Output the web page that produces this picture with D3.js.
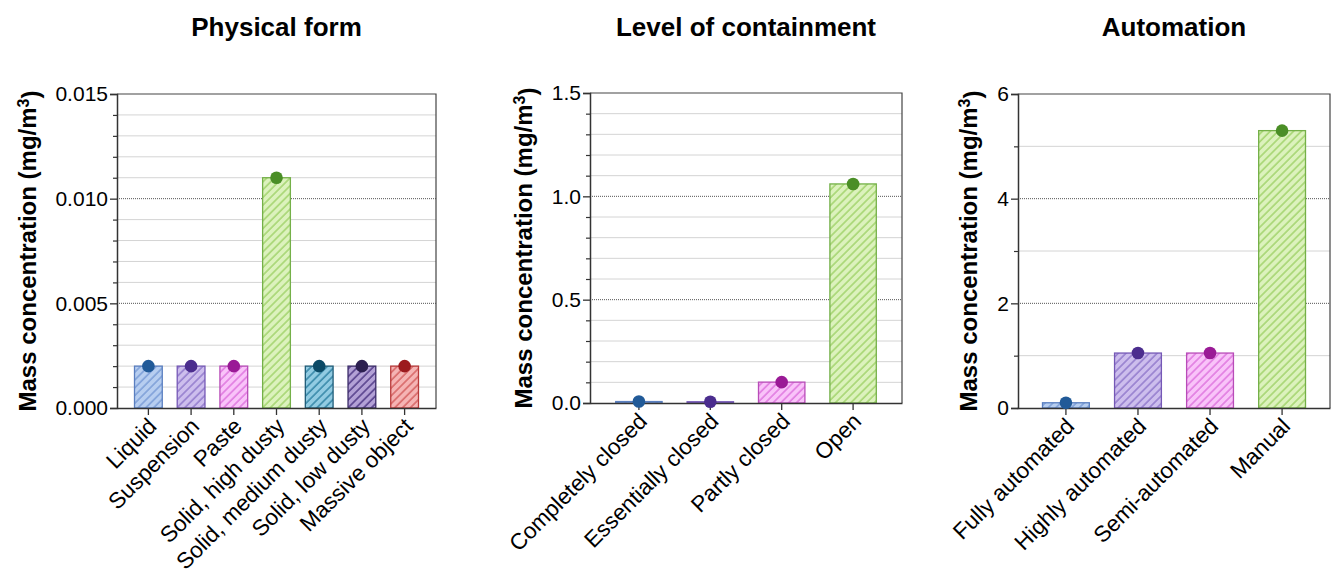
<!DOCTYPE html>
<html>
<head>
<meta charset="utf-8">
<script src="https://cdn.jsdelivr.net/npm/d3@7"></script>
<style>
  body { margin: 0; background: #fff; }
  text { font-family: "Liberation Sans", Arial, sans-serif; fill: #000; }
</style>
</head>
<body>
<script>
// data
var physicalCategories = ["Liquid", "Suspension", "Paste", "Solid, high dusty", "Solid, medium dusty", "Solid, low dusty", "Massive object"];
var physicalValues = [0.002, 0.002, 0.002, 0.011, 0.002, 0.002, 0.002];
var physicalTicks = [0, 0.005, 0.010, 0.015];

var containmentCategories = ["Completely closed", "Essentially closed", "Partly closed", "Open"];
var containmentValues = [0.007, 0.006, 0.101, 1.06];
var containmentTicks = [0, 0.5, 1.0, 1.5];

var automationCategories = ["Fully automated", "Highly automated", "Semi-automated", "Manual"];
var automationValues = [0.1, 1.05, 1.05, 5.3];
var automationTicks = [0, 2, 4, 6];

// fill, hatch, outline, dot
var palette = {
    blue:   ["#b7cef0", "#82a3da", "#5a7fc0", "#215a98"],
    purple: ["#cdbeed", "#9882d0", "#7558b6", "#4b2d8e"],
    pink:   ["#f9c3f9", "#e27fe2", "#b84cb8", "#9a1a96"],
    green:  ["#dcf2bd", "#a9d776", "#74b048", "#4a8e26"],
    teal:   ["#92cbe2", "#3d8cac", "#1f5c78", "#0c4a66"],
    violet: ["#b3a1d6", "#5c4690", "#3a2b68", "#2c1f50"],
    red:    ["#f5b4b4", "#d96c6c", "#b83a3a", "#9c1a1e"]
};

var W = 1341, H = 574;
var svg = d3.select("body").append("svg").attr("width", W).attr("height", H);
var defs = svg.append("defs");

Object.keys(palette).forEach(function (k) {
    var c = palette[k];
    var p = defs.append("pattern")
        .attr("id", "hatch-" + k)
        .attr("patternUnits", "userSpaceOnUse")
        .attr("width", 5.5).attr("height", 5.5)
        .attr("patternTransform", "rotate(45)");
    p.append("rect").attr("width", 5.5).attr("height", 5.5).attr("fill", c[0]);
    p.append("line").attr("x1", 1).attr("x2", 1).attr("y1", 0).attr("y2", 5.5)
        .attr("stroke", c[1]).attr("stroke-width", 1.7);
});

function drawPanel(cfg) {
    var g = svg.append("g");

    var x = d3.scaleBand().domain(cfg.categories)
        .range([cfg.left, cfg.right])
        .paddingInner(0.35).paddingOuter(cfg.outer);
    var y = d3.scaleLinear().domain([0, cfg.ticks[cfg.ticks.length - 1]])
        .range([cfg.bottom, cfg.top]);

    // minor grid
    g.append("g").selectAll("line")
        .data(cfg.minor).enter().append("line")
        .attr("x1", cfg.left).attr("x2", cfg.right)
        .attr("y1", function (d) { return y(d); })
        .attr("y2", function (d) { return y(d); })
        .attr("stroke", "#d4d4d4").attr("stroke-width", 1);

    // major grid (dotted)
    g.append("g").selectAll("line")
        .data(cfg.ticks.slice(1, -1)).enter().append("line")
        .attr("x1", cfg.left).attr("x2", cfg.right)
        .attr("y1", function (d) { return y(d); })
        .attr("y2", function (d) { return y(d); })
        .attr("stroke", "#555").attr("stroke-width", 1)
        .attr("stroke-dasharray", "1,1");

    // frame top + right
    g.append("path")
        .attr("d", "M" + cfg.left + "," + cfg.top + "H" + cfg.right + "V" + cfg.bottom)
        .attr("fill", "none").attr("stroke", "#444").attr("stroke-width", 1.2);

    // bars
    g.selectAll(".bar")
        .data(cfg.values).enter().append("rect")
        .attr("class", "bar")
        .attr("x", function (d, i) { return x(cfg.categories[i]); })
        .attr("width", x.bandwidth())
        .attr("y", function (d) { return y(d); })
        .attr("height", function (d) { return cfg.bottom - y(d); })
        .attr("fill", function (d, i) { return "url(#hatch-" + cfg.colors[i] + ")"; })
        .attr("stroke", function (d, i) { return palette[cfg.colors[i]][2]; })
        .attr("stroke-width", 1.3);

    // y axis
    var yAxis = g.append("g")
        .attr("transform", "translate(" + cfg.left + ",0)")
        .call(d3.axisLeft(y).tickValues(cfg.ticks).tickFormat(d3.format(cfg.fmt))
            .tickSize(7).tickPadding(2));
    yAxis.select(".domain").attr("stroke", "#333").attr("stroke-width", 1.5);
    yAxis.selectAll(".tick line").attr("stroke", "#333").attr("stroke-width", 1.3);
    yAxis.selectAll(".tick text").style("font-size", "21px").attr("fill", "#111");
    g.append("g")
        .attr("transform", "translate(" + cfg.left + ",0)")
        .call(d3.axisLeft(y).tickValues(cfg.minor).tickFormat("").tickSize(4))
        .call(function (s) {
            s.select(".domain").remove();
            s.selectAll(".tick line").attr("stroke", "#333").attr("stroke-width", 1.2);
        });

    // x axis
    var xAxis = g.append("g")
        .attr("transform", "translate(0," + cfg.bottom + ")")
        .call(d3.axisBottom(x).tickSizeInner(7).tickSizeOuter(0).tickPadding(3));
    xAxis.select(".domain").attr("stroke", "#333").attr("stroke-width", 1.5);
    xAxis.selectAll(".tick line").attr("stroke", "#333").attr("stroke-width", 1.3);
    xAxis.selectAll(".tick text")
        .style("font-size", "22.5px").attr("fill", "#111")
        .attr("text-anchor", "end")
        .attr("dy", "0.35em")
        .attr("transform", "translate(4,14) rotate(-45)")
        .attr("y", 0).attr("x", 0);

    // dots
    g.selectAll(".dot")
        .data(cfg.values).enter().append("circle")
        .attr("class", "dot")
        .attr("cx", function (d, i) { return x(cfg.categories[i]) + x.bandwidth() / 2; })
        .attr("cy", function (d) { return y(d); })
        .attr("r", 6.3)
        .attr("fill", function (d, i) { return palette[cfg.colors[i]][3]; });

    // title
    svg.append("text")
        .attr("x", (cfg.left + cfg.right) / 2).attr("y", 36)
        .attr("text-anchor", "middle")
        .style("font-size", "26px").style("font-weight", "bold")
        .text(cfg.title);

    // y label, placed left of the widest tick label
    var tw = d3.max(yAxis.selectAll(".tick text").nodes(), function (n) { return n.getBBox().width; });
    var lx = cfg.left - 9 - tw - 28;
    var lab = svg.append("text")
        .attr("transform", "translate(" + lx + "," + ((cfg.top + cfg.bottom) / 2) + ") rotate(-90)")
        .attr("text-anchor", "middle").attr("dy", "0.35em")
        .style("font-size", "24px").style("font-weight", "bold");
    lab.append("tspan").text("Mass concentration (mg/m");
    lab.append("tspan").attr("dy", "-0.45em").style("font-size", "16px").text("3");
    lab.append("tspan").attr("dy", "0.45em").text(")");
}

drawPanel({
    title: "Physical form",
    categories: physicalCategories, values: physicalValues, ticks: physicalTicks,
    minor: [0.001, 0.002, 0.003, 0.004, 0.006, 0.007, 0.008, 0.009, 0.011, 0.012, 0.013, 0.014],
    fmt: ".3f",
    colors: ["blue", "purple", "pink", "green", "teal", "violet", "red"],
    left: 117, right: 436, top: 94, bottom: 408, outer: 0.41
});

drawPanel({
    title: "Level of containment",
    categories: containmentCategories, values: containmentValues, ticks: containmentTicks,
    minor: [0.1, 0.2, 0.3, 0.4, 0.6, 0.7, 0.8, 0.9, 1.1, 1.2, 1.3, 1.4],
    fmt: ".1f",
    colors: ["blue", "purple", "pink", "green"],
    left: 590, right: 902, top: 93, bottom: 403, outer: 0.36
});

drawPanel({
    title: "Automation",
    categories: automationCategories, values: automationValues, ticks: automationTicks,
    minor: [1, 3, 5],
    fmt: "d",
    colors: ["blue", "purple", "pink", "green"],
    left: 1018, right: 1330, top: 94, bottom: 408, outer: 0.34
});
</script>
</body>
</html>
